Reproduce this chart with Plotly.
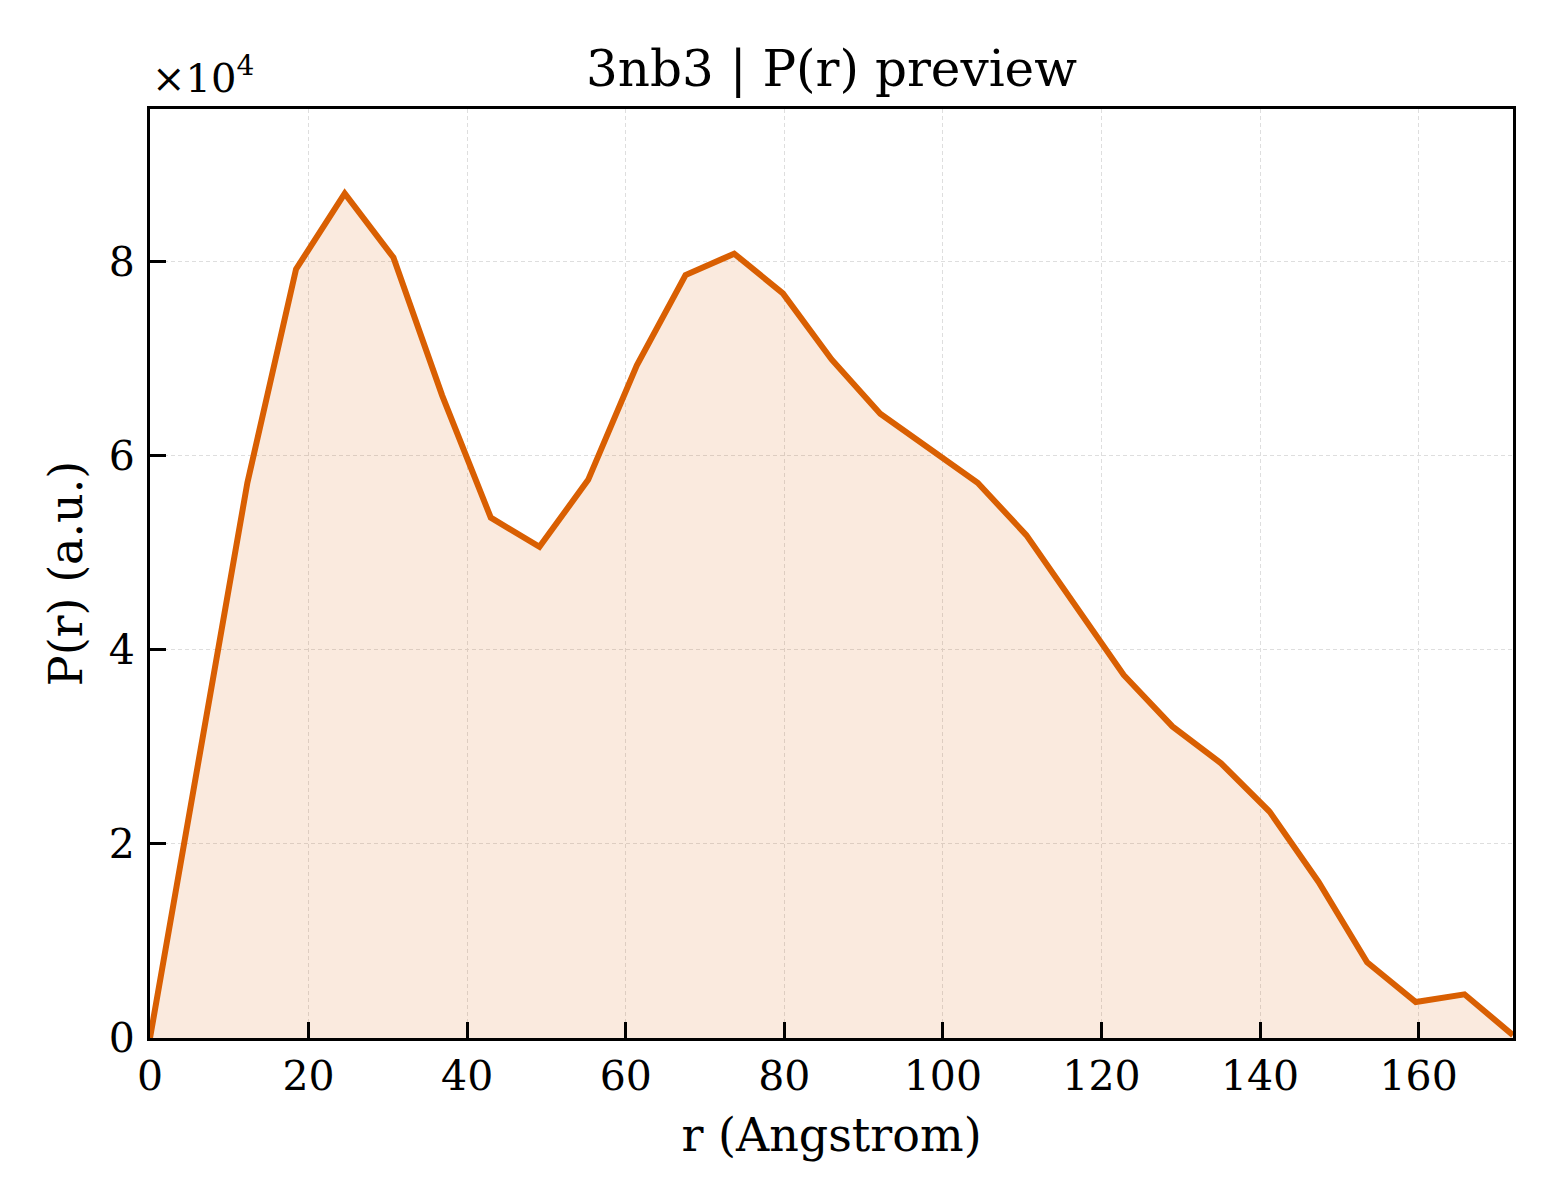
import plotly.graph_objects as go

# P(r) curve
r_angstrom = [0.0, 6.14, 12.28, 18.42, 24.56, 30.70, 36.84, 42.98, 49.12, 55.26,
              61.40, 67.54, 73.68, 79.82, 85.96, 92.10, 98.24, 104.38, 110.52, 116.66,
              122.80, 128.94, 135.08, 141.22, 147.36, 153.50, 159.64, 165.78, 171.9]
p_r = [0, 29000, 57200, 79200, 87000, 80400, 66200, 53600, 50600, 57500,
       69300, 78600, 80800, 76700, 69900, 64300, 60800, 57200, 51800, 44500,
       37400, 32100, 28300, 23300, 16100, 7800, 3700, 4500, 300]

y_ticks = [0, 20000, 40000, 60000, 80000]
y_tick_text = ["0", "2", "4", "6", "8"]
x_ticks = [0, 20, 40, 60, 80, 100, 120, 140, 160]

FONT = "DejaVu Serif"
LINE = "#D95F02"
# the page body adds 8px on top/left, so margins are shifted to compensate
PAGE_PAD = 8

fig = go.Figure()
fig.add_trace(
    go.Scatter(
        x=r_angstrom,
        y=p_r,
        mode="lines",
        line=dict(color=LINE, width=6),
        fill="tozeroy",
        fillcolor="rgba(217,95,2,0.13)",
        showlegend=False,
    )
)

axis_style = dict(
    showline=True,
    linecolor="black",
    linewidth=3,
    mirror=True,
    ticks="inside",
    ticklen=16,
    tickwidth=2.5,
    tickcolor="black",
    showgrid=True,
    gridcolor="rgb(222,222,222)",
    gridwidth=1.3,
    griddash="4px,3px",
    zeroline=False,
    tickfont=dict(family=FONT, size=41, color="black"),
)

fig.update_xaxes(
    **axis_style,
    range=[0, 171.9],
    tickvals=x_ticks,
    title=dict(text="r (Angstrom)", font=dict(family=FONT, size=46, color="black"), standoff=20),
)
fig.update_yaxes(
    **axis_style,
    range=[0, 95700],
    tickvals=y_ticks,
    ticktext=y_tick_text,
    ticklabelstandoff=4,
    title=dict(text="P(r) (a.u.)", font=dict(family=FONT, size=46, color="black"), standoff=12),
)

fig.add_annotation(
    xref="paper", yref="paper", x=0, y=1,
    xanchor="left", yanchor="bottom", yshift=6,
    text="×10<sup>4</sup>", showarrow=False,
    font=dict(family=FONT, size=40, color="black"),
)

fig.update_layout(
    width=1560,
    height=1200,
    plot_bgcolor="white",
    paper_bgcolor="white",
    margin=dict(l=150 - PAGE_PAD, r=47 + PAGE_PAD, t=109 - PAGE_PAD, b=162 + PAGE_PAD),
    title=dict(
        text="3nb3 | P(r) preview",
        x=0.5, xref="paper", xanchor="center",
        y=1 - (68 - PAGE_PAD) / 1200, yref="container", yanchor="middle",
        font=dict(family=FONT, size=50, color="black"),
    ),
)

fig.write_html("out.html")
